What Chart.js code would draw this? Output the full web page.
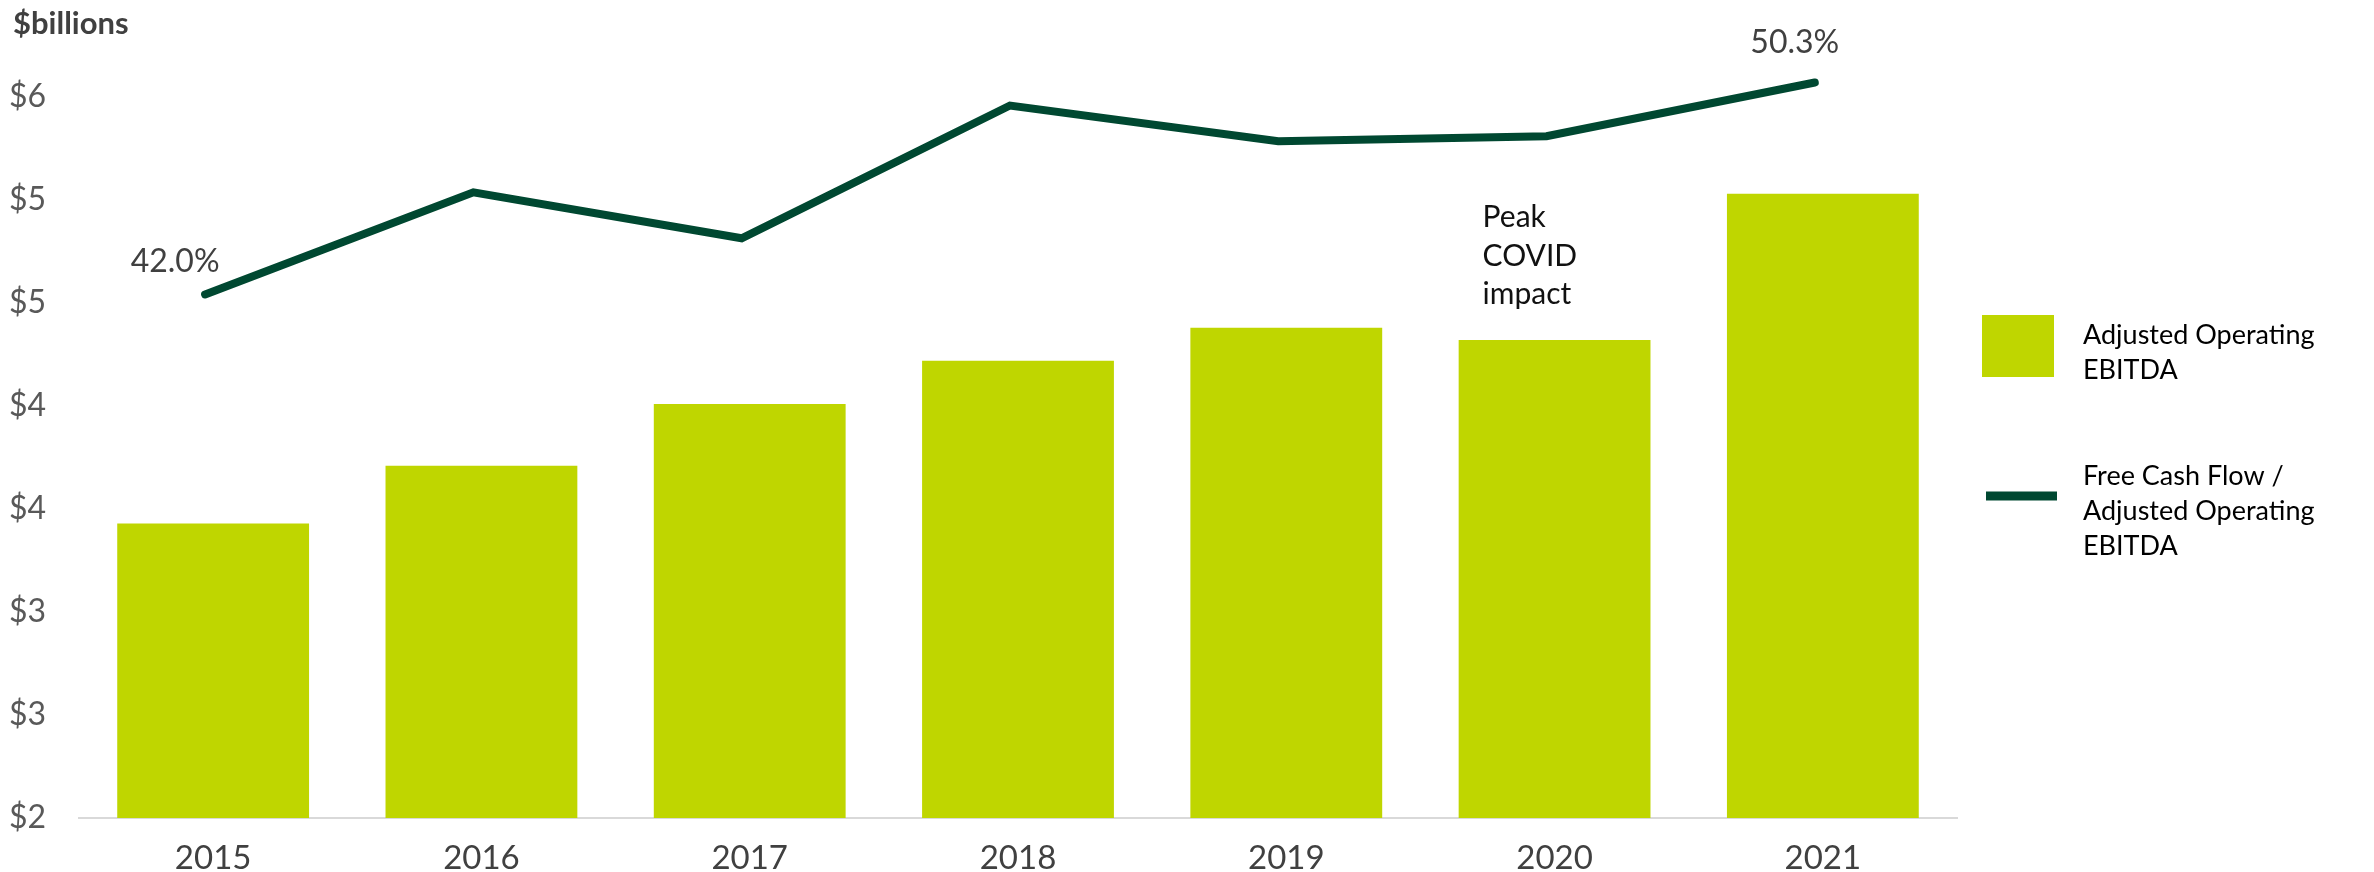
<!DOCTYPE html>
<html>
<head>
<meta charset="utf-8">
<script src="https://cdn.jsdelivr.net/npm/chart.js@4"></script>
<style>
html,body{margin:0;padding:0;background:#fff;}
#wrap{position:relative;width:2374px;height:872px;}
canvas{display:block;}
</style>
</head>
<body>
<div id="wrap"><canvas id="c" width="2374" height="872"></canvas></div>
<script>
// ---- data ----
const categories = ['2015', '2016', '2017', '2018', '2019', '2020', '2021'];
const ebitda = [3.43, 3.71, 4.01, 4.22, 4.38, 4.32, 5.03];           // $ billions
const fcfRatio = [42.0, 46.0, 44.2, 49.4, 48.0, 48.2, 50.3];         // %
const yTicks = [2, 2.5, 3, 3.5, 4, 4.5, 5, 5.5];
const yTickLabels = ['$2', '$3', '$3', '$4', '$4', '$5', '$5', '$6'];
const pointLabels = [{ index: 0, text: '42.0%' }, { index: 6, text: '50.3%' }];
const legendBar = ['Adjusted Operating', 'EBITDA'];
const legendLine = ['Free Cash Flow /', 'Adjusted Operating', 'EBITDA'];
const covidNote = ['Peak', 'COVID', 'impact'];
const covidIndex = 5;
const unitLabel = '$billions';

const BAR_COLOR = '#BFD600';
const LINE_COLOR = '#004831';
const FONT = 'Lato, "Open Sans", sans-serif';

const annotations = {
  id: 'annotations',
  afterDraw(chart) {
    const ctx = chart.ctx;
    const area = chart.chartArea;
    ctx.save();
    // unit label
    ctx.fillStyle = '#404040';
    ctx.font = 'bold 31px ' + FONT;
    ctx.textAlign = 'left';
    ctx.textBaseline = 'alphabetic';
    ctx.fillText(unitLabel, 13, 34);

    // point labels
    const lineMeta = chart.getDatasetMeta(1);
    ctx.font = '32px ' + FONT;
    ctx.fillStyle = '#404040';
    ctx.textAlign = 'center';
    ctx.textBaseline = 'middle';
    pointLabels.forEach(p => {
      const el = lineMeta.data[p.index];
      const dx = p.index === 0 ? -30 : -20;
      const dy = p.index === 0 ? -33 : -40;
      ctx.fillText(p.text, el.x + dx, el.y + dy);
    });

    // covid note
    const barMeta = chart.getDatasetMeta(0);
    const bar = barMeta.data[covidIndex];
    ctx.font = '30px ' + FONT;
    ctx.fillStyle = '#111111';
    ctx.textAlign = 'left';
    ctx.textBaseline = 'alphabetic';
    const offs = [-113, -74, -36];
    covidNote.forEach((t, i) => ctx.fillText(t, bar.x - 72, bar.y + offs[i]));

    // legend
    const lx = area.right + 25;
    ctx.fillStyle = BAR_COLOR;
    ctx.fillRect(lx, 315, 72, 62);
    ctx.strokeStyle = LINE_COLOR;
    ctx.lineWidth = 9;
    ctx.lineCap = 'butt';
    ctx.beginPath();
    ctx.moveTo(lx + 4, 496);
    ctx.lineTo(lx + 75, 496);
    ctx.stroke();
    ctx.fillStyle = '#000000';
    ctx.font = '27px ' + FONT;
    legendBar.forEach((t, i) => ctx.fillText(t, lx + 101, 344 + i * 35));
    legendLine.forEach((t, i) => ctx.fillText(t, lx + 101, 485 + i * 35));
    ctx.restore();
  }
};

new Chart(document.getElementById('c'), {
  data: {
    labels: categories,
    datasets: [
      {
        type: 'bar',
        label: 'Adjusted Operating EBITDA',
        data: ebitda,
        backgroundColor: BAR_COLOR,
        barPercentage: 0.715,
        categoryPercentage: 1.0,
        grouped: false,
        xAxisID: 'x',
        yAxisID: 'y',
        order: 2
      },
      {
        type: 'line',
        label: 'Free Cash Flow / Adjusted Operating EBITDA',
        data: fcfRatio.map((v, i) => ({ x: i, y: v })),
        borderColor: LINE_COLOR,
        borderWidth: 8,
        pointRadius: 0,
        tension: 0,
        borderCapStyle: 'round',
        borderJoinStyle: 'miter',
        fill: false,
        xAxisID: 'x2',
        yAxisID: 'y1',
        order: 1
      }
    ]
  },
  options: {
    responsive: false,
    animation: false,
    devicePixelRatio: 1,
    layout: { padding: { left: 0, right: 417, top: 45.5, bottom: 0 } },
    plugins: { legend: { display: false }, tooltip: { enabled: false } },
    scales: {
      x: {
        grid: { display: false },
        border: { display: true, color: '#d9d9d9', width: 2 },
        ticks: { font: { size: 33, family: FONT }, color: '#404040', padding: 13 },
        afterFit(scale) { scale.height = 54; }
      },
      x2: {
        type: 'linear',
        display: false,
        min: -0.47,
        max: 6.53
      },
      y: {
        type: 'linear',
        min: 2,
        max: 5.75,
        grid: { display: false },
        border: { display: false },
        afterBuildTicks(scale) { scale.ticks = yTicks.map(v => ({ value: v })); },
        ticks: {
          font: { size: 32, family: FONT },
          color: '#595959',
          padding: 25,
          callback(value) { const i = yTicks.indexOf(value); return i >= 0 ? yTickLabels[i] : ''; }
        },
        afterFit(scale) { scale.width = 79; }
      },
      y1: {
        type: 'linear',
        display: false,
        min: 21.5,
        max: 51.75
      }
    }
  },
  plugins: [annotations]
});
</script>
</body>
</html>
